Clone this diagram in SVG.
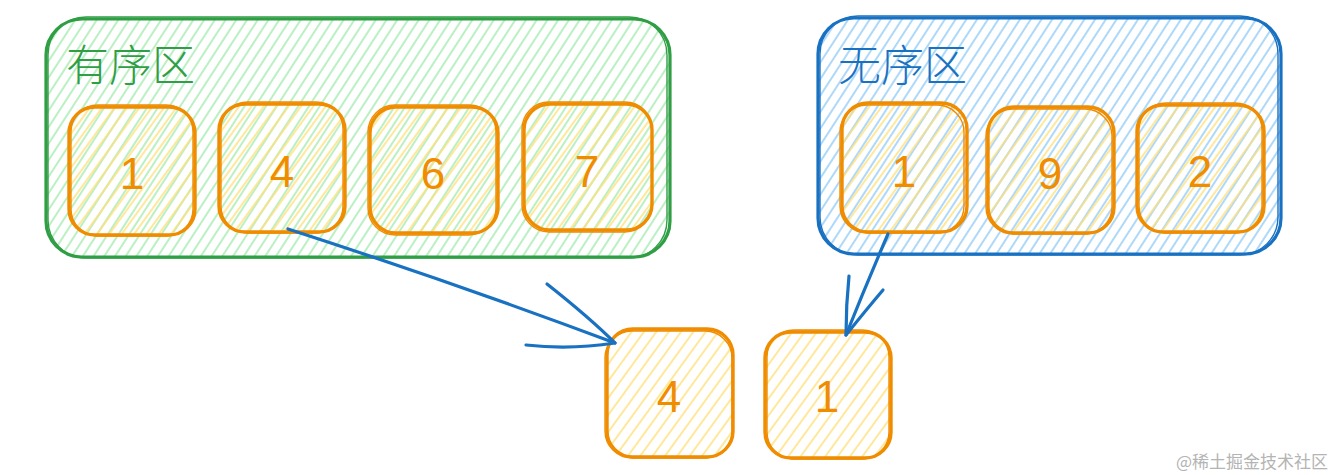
<svg xmlns="http://www.w3.org/2000/svg" width="1338" height="475" viewBox="0 0 1338 475">
<defs>
<pattern id="hg" width="9" height="9" patternUnits="userSpaceOnUse" patternTransform="rotate(33)"><line x1="2" y1="0" x2="2" y2="9" stroke="#a9ecb4" stroke-width="1.6"/></pattern>
<pattern id="hb" width="9" height="9" patternUnits="userSpaceOnUse" patternTransform="rotate(33)"><line x1="2" y1="0" x2="2" y2="9" stroke="#99cff8" stroke-width="1.6"/></pattern>
<pattern id="hy" width="10" height="10" patternUnits="userSpaceOnUse" patternTransform="rotate(36)"><line x1="6" y1="0" x2="6" y2="10" stroke="#ffe07a" stroke-width="1.5"/></pattern>
</defs>
<style>
.cg{fill:url(#hg)}
.cb{fill:url(#hb)}
.cy{fill:url(#hy)}
.sg{fill:none;stroke:#2f9e44;stroke-width:3.2}
.sb{fill:none;stroke:#1971c2;stroke-width:3.2}
.so{fill:none;stroke:#f08c00;stroke-width:3.4}
.thin{stroke-width:1.4}
.lbl{font-family:"Noto Sans CJK SC","Noto Sans",sans-serif;font-size:43px;font-weight:300}
.num{font-family:"Liberation Sans",sans-serif;font-size:44px;fill:#f08c00;text-anchor:middle}
.arr{fill:none;stroke:#1971c2;stroke-width:3.2;stroke-linecap:round;stroke-linejoin:round}
.wm{font-family:"Noto Sans CJK SC",sans-serif;font-size:17px;fill:#b4b4b4}
</style>

<g id="sorted">
<rect class="cg" x="46" y="19" width="624" height="238" rx="36"/>
<rect class="sg" x="46" y="19" width="624" height="238" rx="36"/>
<rect class="sg thin" x="48" y="17" width="619" height="241" rx="38"/>
<text class="lbl" x="66" y="81" fill="#2f9e44">有序区</text>
</g>

<g id="unsorted">
<rect class="cb" x="818" y="18" width="463" height="236" rx="36"/>
<rect class="sb" x="818" y="18" width="463" height="236" rx="36"/>
<rect class="sb thin" x="820" y="16" width="458" height="239" rx="38"/>
<text class="lbl" x="838" y="81" fill="#1971c2">无序区</text>
</g>

<g id="s1">
<rect class="cy" x="69" y="107" width="126" height="128" rx="26"/>
<rect class="so" x="69" y="107" width="126" height="128" rx="26"/>
<rect class="so thin" x="71" y="105" width="122" height="131" rx="27"/>
<text class="num" x="132" y="189">1</text>
</g>
<g id="s4">
<rect class="cy" x="219" y="104" width="126" height="128" rx="26"/>
<rect class="so" x="219" y="104" width="126" height="128" rx="26"/>
<rect class="so thin" x="221" y="102" width="122" height="131" rx="27"/>
<text class="num" x="282" y="187">4</text>
</g>
<g id="s6">
<rect class="cy" x="370" y="107" width="128" height="126" rx="26"/>
<rect class="so" x="370" y="107" width="128" height="126" rx="26"/>
<rect class="so thin" x="368" y="105" width="128" height="130" rx="27"/>
<text class="num" x="433" y="189">6</text>
</g>
<g id="s7">
<rect class="cy" x="524" y="104" width="128" height="126" rx="26"/>
<rect class="so" x="524" y="104" width="128" height="126" rx="26"/>
<rect class="so thin" x="522" y="102" width="130" height="130" rx="27"/>
<text class="num" x="587" y="187">7</text>
</g>

<g id="u1">
<rect class="cy" x="842" y="103" width="125" height="129" rx="26"/>
<rect class="so" x="842" y="103" width="125" height="129" rx="26"/>
<rect class="so thin" x="840" y="105" width="124" height="128" rx="27"/>
<text class="num" x="904" y="187">1</text>
</g>
<g id="u9">
<rect class="cy" x="988" y="107" width="126" height="126" rx="26"/>
<rect class="so" x="988" y="107" width="126" height="126" rx="26"/>
<rect class="so thin" x="986" y="109" width="126" height="125" rx="27"/>
<text class="num" x="1050" y="189">9</text>
</g>
<g id="u2">
<rect class="cy" x="1137" y="105" width="127" height="127" rx="26"/>
<rect class="so" x="1137" y="105" width="127" height="127" rx="26"/>
<rect class="so thin" x="1139" y="103" width="123" height="130" rx="27"/>
<text class="num" x="1200" y="187">2</text>
</g>

<g id="b4">
<rect class="cy" x="607" y="329" width="126" height="128" rx="26"/>
<rect class="so" x="607" y="329" width="126" height="128" rx="26"/>
<rect class="so thin" x="605" y="331" width="127" height="127" rx="27"/>
<text class="num" x="669" y="412">4</text>
</g>
<g id="b1">
<rect class="cy" x="765" y="332" width="126" height="126" rx="26"/>
<rect class="so" x="765" y="332" width="126" height="126" rx="26"/>
<rect class="so thin" x="767" y="330" width="122" height="129" rx="27"/>
<text class="num" x="827" y="412">1</text>
</g>

<g id="connectors">
<path class="arr" d="M288 229 Q455 283 615 343"/>
<path class="arr" d="M547 284 Q590 318 615 343 Q570 350 526 345"/>
<path class="arr" d="M888 234 Q866 285 846 335"/>
<path class="arr" d="M849 276 Q846 305 846 335 Q866 310 883 290"/>
</g>

<text class="wm" x="1176" y="468">@稀土掘金技术社区</text>
</svg>
